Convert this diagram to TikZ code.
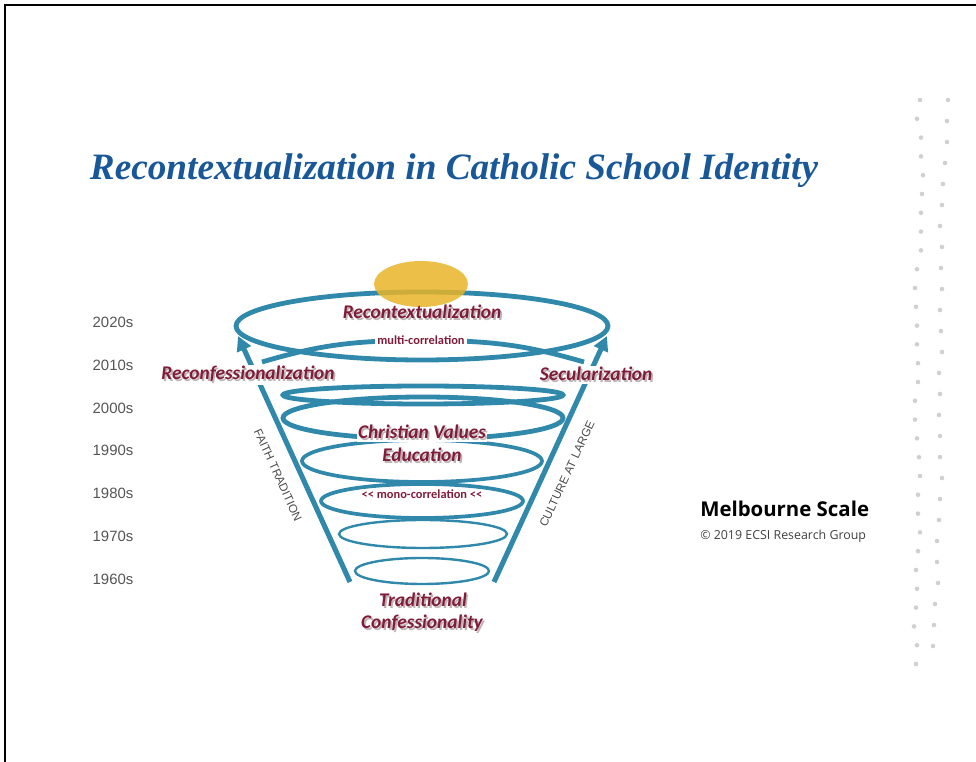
\documentclass[tikz,border=0pt]{standalone}
\usepackage{graphicx}
\usepackage{fontspec}
\setmainfont{Liberation Sans}
\newfontfamily\lblfont{Carlito}
\newfontfamily\titlefont{Liberation Serif}
\newfontfamily\osfont{Open Sans}
\usetikzlibrary{arrows.meta}
\definecolor{funnel}{RGB}{48,137,170}
\definecolor{maroon}{RGB}{128,28,58}
\definecolor{titleblue}{RGB}{25,88,152}
\definecolor{gold}{RGB}{232,180,40}
\definecolor{dotgray}{RGB}{208,208,208}
\definecolor{yeargray}{RGB}{85,85,85}
\definecolor{shadowgray}{RGB}{190,180,182}
\newcommand\shd[1]{\leavevmode\rlap{\raisebox{-1.3pt}{\hspace{1.3pt}\textcolor{shadowgray}{#1}}}#1}
\tikzset{
  ring/.style={draw=funnel, line width=3.6pt},
  ringmid/.style={draw=funnel, line width=2.8pt},
  ringthin/.style={draw=funnel, line width=1.8pt},
  side/.style={draw=funnel, line width=3.8pt, -{Triangle[length=11pt,width=11pt]}},
  lbl/.style={text=maroon, font=\lblfont\bfseries\itshape\fontsize{14.5}{16}\selectfont, inner sep=1pt},
  lblsmall/.style={text=maroon, font=\lblfont\bfseries\fontsize{9.3}{11}\selectfont, inner sep=1.5pt},
  year/.style={text=yeargray, font=\fontsize{11.2}{13}\selectfont},
  rot/.style={text=yeargray!90!black, font=\fontsize{8.8}{10}\selectfont},
}
\begin{document}
\begin{tikzpicture}[x=0.75pt,y=-0.75pt]
\useasboundingbox (0,0) rectangle (976,762);
\draw[line width=1.5pt] (5,762) -- (5,5) -- (976,5);

% title
\node[anchor=base, text=titleblue] (title) at (454,180)
  {\resizebox{546pt}{!}{\titlefont\bfseries\itshape Recontextualization in Catholic School Identity}};

% decorative dots
\foreach \x [count=\i] in {920,917,921,921,923,922,921,921,921,917,915,916,917,917,918,918,915,915,917,919,920,918,918,920,918,916,917,916,914,917,916}
  \fill[dotgray] ({\x},{100+(\i-1)*18.8}) circle[radius=2.3];
\foreach \x [count=\i] in {948,947,947,945,943,942,940,942,941,942,940,941,942,939,940,939,940,940,942,940,939,937,937,938,935,934,933}
  \fill[dotgray] ({\x},{100+(\i-1)*21}) circle[radius=2.3];

% years
\node[year] (y2020) at (113,322) {2020s};
\node[year] (y2010) at (113,365) {2010s};
\node[year] (y2000) at (113,408) {2000s};
\node[year] (y1990) at (113,450) {1990s};
\node[year] (y1980) at (113,493) {1980s};
\node[year] (y1970) at (113,536) {1970s};
\node[year] (y1960) at (113,579) {1960s};

% funnel rings
\draw[ring] (422,326) ellipse [x radius=186, y radius=34];
\draw[ring] (262,362) .. controls (320,345) and (350,341) .. (422,340) .. controls (495,341) and (525,345) .. (584,362);
\draw[ring] (423,395) ellipse [x radius=140, y radius=9];
\draw[ring] (423,418) ellipse [x radius=140, y radius=21];
\draw[ringmid] (422,461) ellipse [x radius=120, y radius=21];
\draw[ringmid] (422,501) ellipse [x radius=101, y radius=17];
\draw[ringthin] (423,534) ellipse [x radius=84, y radius=14];
\draw[ringthin] (422,571) ellipse [x radius=67, y radius=13];

% side arrows
\coordinate (lb) at (350,582);
\coordinate (lt) at (238,336);
\coordinate (rb) at (494,582);
\coordinate (rt) at (607,336);
\draw[side] (lb) -- (lt);
\draw[side] (rb) -- (rt);

% rotated side labels
\node[rot, rotate=-65.6] (faith) at (278,475) {FAITH TRADITION};
\node[rot, rotate=65] (culture) at (567,474) {CULTURE AT LARGE};

% highlight
\fill[gold, opacity=0.85] (421,284) ellipse [x radius=47, y radius=23];

% maroon labels
\node[lbl] (recon) at (422,313) {\shd{Recontextualization}};
\node[lblsmall, fill=white] (multi) at (421,340) {multi-correlation};
\node[lbl, fill=white] (reconf) at (248,375) {\shd{Reconfessionalization}};
\node[lbl, fill=white] (secul) at (596,375) {\shd{Secularization}};
\node[lbl, fill=white] (cv) at (422,433) {\shd{Christian Values}};
\node[lbl] (edu) at (422,456) {\shd{Education}};
\node[lblsmall] (mono) at (422,494) {<< mono-correlation <<};
\node[lbl] (trad) at (423,601) {\shd{Traditional}};
\node[lbl] (conf) at (422,624) {\shd{Confessionality}};

% Melbourne Scale
\node[anchor=base west, inner sep=0pt, font=\osfont\bfseries\fontsize{15.3}{17}\selectfont] (ms) at (700,517) {Melbourne Scale};
\node[anchor=base west, inner sep=0pt, text=black!75, font=\osfont\fontsize{9.3}{11}\selectfont] (copy) at (700,540) {© 2019 ECSI Research Group};
\end{tikzpicture}
\end{document}
